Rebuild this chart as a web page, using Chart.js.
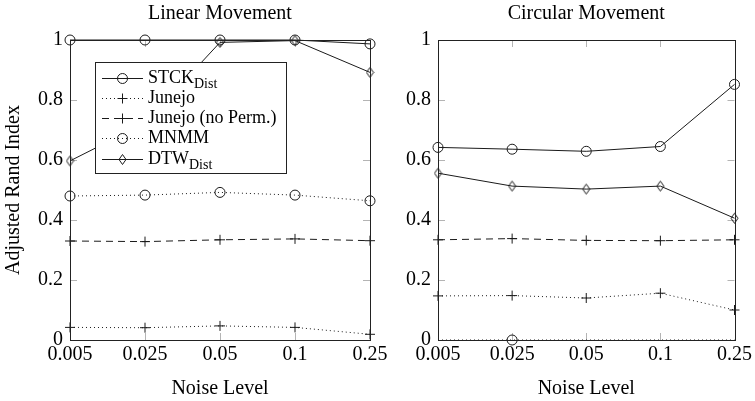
<!DOCTYPE html>
<html>
<head>
<meta charset="utf-8">
<script src="https://cdn.jsdelivr.net/npm/chart.js@4"></script>
<style>
  html, body { margin: 0; padding: 0; background: #fff; }
  #wrap { position: relative; width: 755px; height: 401px; overflow: hidden; }
  #linearChart { position: absolute; left: 0; top: 0; }
  #circularChart { position: absolute; left: 360px; top: 0; }
</style>
</head>
<body>
<div id="wrap">
  <canvas id="linearChart" width="400" height="401"></canvas>
  <canvas id="circularChart" width="395" height="401"></canvas>
</div>
<script>
// Noise levels on the x axis and the y tick values shared by both panels
const noiseLevels = ['0.005', '0.025', '0.05', '0.1', '0.25'];
const yTickValues = [0, 0.2, 0.4, 0.6, 0.8, 1];
const yTickLabels = ['0', '0.2', '0.4', '0.6', '0.8', '1'];

// Linear movement
const stckLinear = [1, 1, 1, 1, 0.987];
const junejoLinear = [0.042, 0.041, 0.047, 0.042, 0.019];
const junejoNoPermLinear = [0.330, 0.328, 0.334, 0.337, 0.331];
const mnmmLinear = [0.480, 0.483, 0.492, 0.483, 0.464];
const dtwLinear = [0.597, 0.723, 0.992, 0.998, 0.892];

// Circular movement
const stckCircular = [0.642, 0.636, 0.629, 0.645, 0.852];
const junejoCircular = [0.147, 0.148, 0.140, 0.156, 0.100];
const junejoNoPermCircular = [0.334, 0.338, 0.332, 0.331, 0.334];
const mnmmCircular = [0, 0, 0, 0, 0];
const dtwCircular = [0.556, 0.513, 0.503, 0.513, 0.406];

const SERIF = "'Liberation Serif', 'Times New Roman', serif";
const INK = '#1a1a1a';
const TICK_GRAY = '#b4b4b4';

// narrow diamond marker, like pgfplots' "diamond"
function makeDiamond() {
    const c = document.createElement('canvas');
    c.width = 9;
    c.height = 13;
    const g = c.getContext('2d');
    g.strokeStyle = INK;
    g.lineWidth = 1;
    g.beginPath();
    g.moveTo(4.5, 1.5);
    g.lineTo(8, 6.5);
    g.lineTo(4.5, 11.5);
    g.lineTo(1, 6.5);
    g.closePath();
    g.stroke();
    return c;
}
const diamond = makeDiamond();

const seriesStyles = {
    stck:         { label: 'STCK', sub: 'Dist', dash: [],     mark: 'circle', radius: 5 },
    junejo:       { label: 'Junejo', sub: '',   dash: [1, 3], mark: 'cross',  radius: 5 },
    junejoNoPerm: { label: 'Junejo (no Perm.)', sub: '', dash: [7, 5], mark: 'cross', radius: 5 },
    mnmm:         { label: 'MNMM', sub: '',     dash: [1, 3], mark: 'circle', radius: 5 },
    dtw:          { label: 'DTW', sub: 'Dist',  dash: [],     mark: diamond,  radius: 5 },
};
const legendOrder = ['stck', 'junejo', 'junejoNoPerm', 'mnmm', 'dtw'];

function makeDataset(key, data, pointRadius) {
    const s = seriesStyles[key];
    return {
        label: s.label + (s.sub ? ' ' + s.sub : ''),
        data: data,
        borderColor: INK,
        borderWidth: 1,
        borderDash: s.dash,
        backgroundColor: 'transparent',
        pointStyle: s.mark,
        pointRadius: pointRadius !== undefined ? pointRadius : s.radius,
        pointHoverRadius: s.radius,
        pointBorderColor: INK,
        pointBackgroundColor: 'transparent',
        pointBorderWidth: 1,
        tension: 0,
        fill: false,
        clip: false,
    };
}

// title above each panel, centred on the plot box
const panelTitle = {
    id: 'panelTitle',
    afterDraw(chart, args, opts) {
        const { ctx, chartArea } = chart;
        ctx.save();
        ctx.font = '20px ' + SERIF;
        ctx.fillStyle = '#000';
        ctx.textAlign = 'center';
        ctx.textBaseline = 'middle';
        ctx.fillText(opts.text, (chartArea.left + chartArea.right) / 2, 14);
        ctx.restore();
    }
};

// inward gray tick marks on all four sides plus the box frame
const axisFrame = {
    id: 'axisFrame',
    beforeDatasetsDraw(chart) {
        const { ctx, chartArea: a, scales } = chart;
        const len = 7;
        ctx.save();
        ctx.strokeStyle = TICK_GRAY;
        ctx.lineWidth = 1;
        ctx.beginPath();
        scales.x.ticks.forEach((t, i) => {
            const x = Math.round(scales.x.getPixelForTick(i)) + 0.5;
            ctx.moveTo(x, a.bottom);
            ctx.lineTo(x, a.bottom - len);
            ctx.moveTo(x, a.top);
            ctx.lineTo(x, a.top + len);
        });
        yTickValues.forEach(v => {
            const y = Math.round(scales.y.getPixelForValue(v)) + 0.5;
            ctx.moveTo(a.left, y);
            ctx.lineTo(a.left + len, y);
            ctx.moveTo(a.right, y);
            ctx.lineTo(a.right - len, y);
        });
        ctx.stroke();
        ctx.restore();
    },
    afterDatasetsDraw(chart) {
        const { ctx, chartArea: a } = chart;
        ctx.save();
        ctx.strokeStyle = '#222';
        ctx.lineWidth = 1;
        ctx.strokeRect(Math.round(a.left) + 0.5, Math.round(a.top) + 0.5,
            Math.round(a.right - a.left), Math.round(a.bottom - a.top));
        ctx.restore();
    }
};

function drawMark(ctx, mark, x, y, r) {
    ctx.setLineDash([]);
    if (mark === 'circle') {
        ctx.beginPath();
        ctx.arc(x, y, r, 0, Math.PI * 2);
        ctx.stroke();
    } else if (mark === 'cross') {
        ctx.beginPath();
        ctx.moveTo(x - r, y);
        ctx.lineTo(x + r, y);
        ctx.moveTo(x, y - r);
        ctx.lineTo(x, y + r);
        ctx.stroke();
    } else {
        ctx.drawImage(mark, x - mark.width / 2, y - mark.height / 2);
    }
}

// boxed legend inside the left panel, with subscripts
const legendBox = {
    id: 'legendBox',
    afterDatasetsDraw(chart) {
        const ctx = chart.ctx;
        const box = { x: 95.5, y: 62.5, w: 191, h: 111 };
        const rows = [78, 98, 118, 138, 159];
        ctx.save();
        ctx.fillStyle = '#fff';
        ctx.fillRect(box.x, box.y, box.w, box.h);
        ctx.strokeStyle = '#222';
        ctx.lineWidth = 1;
        ctx.strokeRect(box.x, box.y, box.w, box.h);

        legendOrder.forEach((key, i) => {
            const s = seriesStyles[key];
            const y = rows[i] + 0.5;
            ctx.strokeStyle = INK;
            ctx.setLineDash(s.dash);
            ctx.beginPath();
            ctx.moveTo(102, y);
            ctx.lineTo(143, y);
            ctx.stroke();
            drawMark(ctx, s.mark, 122.5, y, s.radius);

            ctx.fillStyle = '#000';
            ctx.textAlign = 'left';
            ctx.textBaseline = 'middle';
            ctx.font = '18px ' + SERIF;
            ctx.fillText(s.label, 148, rows[i]);
            if (s.sub) {
                const w = ctx.measureText(s.label).width;
                ctx.font = '14px ' + SERIF;
                ctx.fillText(s.sub, 148 + w, rows[i] + 6);
            }
        });
        ctx.restore();
    }
};

function makeScales(yAxisWidth, showYTitle) {
    const tickFont = { family: SERIF, size: 20 };
    return {
        x: {
            type: 'category',
            labels: noiseLevels,
            offset: false,
            grid: { display: false, drawTicks: false },
            border: { display: false },
            ticks: { color: '#000', font: tickFont, padding: 3, maxRotation: 0, autoSkip: false },
            title: { display: true, text: 'Noise Level', color: '#000', font: tickFont, padding: { top: 0, bottom: 0 } },
            afterFit: (scale) => { scale.height = 61; },
        },
        y: {
            min: 0,
            max: 1,
            grid: { display: false, drawTicks: false },
            border: { display: false },
            afterBuildTicks: (scale) => { scale.ticks = yTickValues.map(v => ({ value: v })); },
            ticks: {
                color: '#000',
                font: tickFont,
                padding: 7,
                callback: (value, index) => yTickLabels[index],
            },
            title: { display: showYTitle, text: 'Adjusted Rand Index', color: '#000', font: tickFont, padding: { top: 2, bottom: 0 } },
            afterFit: (scale) => { scale.width = yAxisWidth; },
        },
    };
}

function renderPanel(canvasId, title, datasets, yAxisWidth, showYTitle, padRight, extraPlugins) {
    const ctx = document.getElementById(canvasId).getContext('2d');
    const config = {
        type: 'line',
        data: { labels: noiseLevels, datasets: datasets },
        options: {
            responsive: false,
            animation: false,
            events: [],
            layout: { padding: { top: 40, right: padRight, bottom: 0, left: 0 } },
            plugins: {
                legend: { display: false },
                title: { display: false },
                tooltip: { enabled: false },
                panelTitle: { text: title },
            },
            scales: makeScales(yAxisWidth, showYTitle),
        },
        plugins: [panelTitle, axisFrame].concat(extraPlugins),
    };
    return new Chart(ctx, config);
}

renderPanel('linearChart', 'Linear Movement', [
    makeDataset('stck', stckLinear),
    makeDataset('junejo', junejoLinear),
    makeDataset('junejoNoPerm', junejoNoPermLinear),
    makeDataset('mnmm', mnmmLinear),
    makeDataset('dtw', dtwLinear),
], 70, true, 30, [legendBox]);

// MNMM sits on zero here; only one of its marks shows above the axis
renderPanel('circularChart', 'Circular Movement', [
    makeDataset('stck', stckCircular),
    makeDataset('junejo', junejoCircular),
    makeDataset('junejoNoPerm', junejoNoPermCircular),
    makeDataset('mnmm', mnmmCircular, [0, 5, 0, 0, 0]),
    makeDataset('dtw', dtwCircular),
], 78, false, 17, []);
</script>
</body>
</html>
